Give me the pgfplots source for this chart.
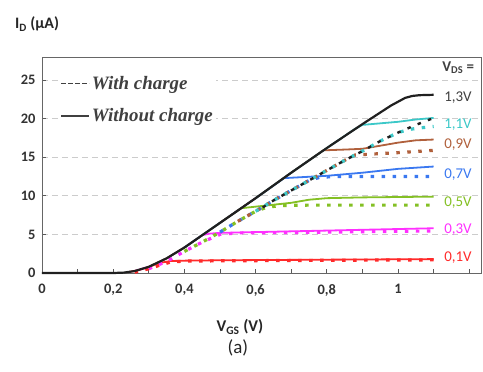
\documentclass[border=0pt]{standalone}
\usepackage{fontspec}
\setmainfont{Carlito}
\newfontfamily\legfont{Liberation Serif}
\usepackage{pgfplots}
\pgfplotsset{compat=1.18}
\definecolor{cC}{HTML}{3CC8C8}
\definecolor{cBr}{HTML}{B0603C}
\definecolor{cBl}{HTML}{3A78F0}
\definecolor{cG}{HTML}{84C024}
\definecolor{cM}{HTML}{FF30FF}
\definecolor{cR}{HTML}{FF2A2A}
\definecolor{cK}{HTML}{202020}
\pgfplotsset{dotsty/.style={forget plot, line width=3.2bp, dash pattern=on 3.5bp off 7.5bp}}
\begin{document}
\begin{tikzpicture}
\begin{axis}[name=ax, scale only axis, width=439bp, height=216bp,
  xmin=0, xmax=1.233, ymin=0, ymax=28, clip=false,
  axis line style={draw=gray!80!black, line width=0.9bp},
  xtick={0,0.2,0.4,0.6,0.8,1,1.2}, xticklabels={0,{0,2},{0,4},{0,6},{0,8},1,{}},
  minor xtick={0.1,0.3,0.5,0.7,0.9,1.1},
  ytick={0,5,10,15,20,25},
  xtick pos=bottom, ytick pos=left, tick align=inside,
  major tick length=4bp, minor tick length=4bp,
  tick style={gray!70!black, line width=0.8bp},
  ymajorgrids, grid style={gray!40, dash pattern=on 6bp off 4bp, line width=1bp},
  ticklabel style={font=\fontsize{14.5}{16}\selectfont\bfseries, text=black!80},
  /pgf/number format/assume math mode=true,
  xticklabel style={yshift=-8bp},
  yticklabel style={xshift=-3bp},
  legend cell align=left,
  legend image code/.code={\draw[#1] (0bp,0bp) -- (28bp,0bp);},
  legend style={at={(rel axis cs:0,1)}, anchor=north west, xshift=17bp, yshift=-16bp,
    draw=none, fill=white, inner sep=1bp, row sep=14bp,
    font=\legfont\bfseries\itshape\fontsize{19}{21}\selectfont, text=black!75},
]
\addlegendimage{black!75, line width=1.3bp, dash pattern=on 4.5bp off 2.5bp}
\addlegendentry{With charge}
\addlegendimage{black!75, line width=1.8bp}
\addlegendentry{Without charge}

% solid colored (without charge)
\addplot[forget plot, cR, line width=1.8bp] coordinates {(0.24,0.1) (0.27,0.35) (0.3,0.8) (0.33,1.3) (0.36,1.55) (0.4,1.6) (0.5,1.65) (0.7,1.7) (0.9,1.75) (1.1,1.8)};
\addplot[forget plot, cM, line width=1.8bp] coordinates {(0.26,0.25) (0.3,0.8) (0.35,1.9) (0.4,3.3) (0.45,4.9) (0.47,5.1) (0.5,5.2) (0.6,5.3) (0.8,5.5) (1.0,5.7) (1.1,5.8)};
\addplot[forget plot, cG, line width=1.8bp] coordinates {(0.3,0.8) (0.35,1.9) (0.4,3.3) (0.45,4.9) (0.5,6.5) (0.56,8.4) (0.6,8.6) (0.7,9.1) (0.75,9.5) (0.8,9.7) (0.9,9.8) (1.1,9.9)};
\addplot[forget plot, cBl, line width=1.8bp] coordinates {(0.4,3.3) (0.45,4.9) (0.5,6.5) (0.6,9.7) (0.68,12.3) (0.72,12.4) (0.8,12.6) (0.9,13.0) (1.0,13.5) (1.1,13.8)};
\addplot[forget plot, cBr, line width=1.8bp] coordinates {(0.5,6.5) (0.6,9.7) (0.7,13.0) (0.79,15.9) (0.85,16.0) (0.9,16.1) (0.95,16.5) (1.0,16.9) (1.05,17.2) (1.1,17.3)};
\addplot[forget plot, cC, line width=1.8bp] coordinates {(0.6,9.7) (0.7,13.0) (0.8,16.2) (0.88,18.7) (0.9,19.2) (0.95,19.4) (1.0,19.6) (1.05,19.9) (1.1,20.1)};

% dotted colored (with charge)
\addplot[dotsty, cR] coordinates {(0.26,0.1) (0.3,0.55) (0.33,1.0) (0.36,1.4) (0.4,1.55) (0.6,1.6) (0.8,1.65) (1.1,1.7)};
\addplot[dotsty, cM] coordinates {(0.3,0.55) (0.35,1.5) (0.4,2.8) (0.45,4.0) (0.5,5.0) (0.55,5.2) (0.7,5.25) (0.9,5.35) (1.1,5.45)};
\addplot[dotsty, cG] coordinates {(0.4,2.8) (0.45,4.0) (0.5,5.3) (0.55,6.7) (0.6,8.0) (0.63,8.5) (0.67,8.75) (0.75,8.8) (1.1,8.8)};
\addplot[dotsty, cBl] coordinates {(0.5,5.3) (0.55,6.7) (0.6,8.0) (0.65,9.4) (0.7,10.7) (0.75,12.0) (0.78,12.4) (0.82,12.5) (1.1,12.5)};
\addplot[dotsty, cBr] coordinates {(0.55,6.7) (0.6,8.0) (0.65,9.4) (0.7,10.7) (0.75,12.0) (0.8,13.3) (0.85,14.6) (0.88,15.3) (0.92,15.4) (1.0,15.6) (1.1,15.9)};
\addplot[dotsty, cC] coordinates {(0.6,8.0) (0.65,9.4) (0.7,10.7) (0.75,12.0) (0.8,13.3) (0.85,14.6) (0.9,15.8) (0.95,17.1) (1.0,18.2) (1.03,18.6) (1.06,18.8) (1.1,19.0)};
\addplot[dotsty, cK, line width=2.4bp] coordinates {(0.62,8.5) (0.65,9.4) (0.7,10.7) (0.75,12.0) (0.8,13.3) (0.85,14.6) (0.9,15.8) (0.95,17.1) (1.0,18.2) (1.05,19.2) (1.1,20.1)};

% black solid (1.3 V)
\addplot[forget plot, cK, line width=2.2bp] coordinates {(0,0) (0.1,0) (0.2,0) (0.23,0.05) (0.26,0.25) (0.3,0.8) (0.35,1.9) (0.4,3.3) (0.45,4.9) (0.5,6.5) (0.6,9.7) (0.7,13.0) (0.8,16.2) (0.9,19.3) (0.98,21.7) (1.0,22.2) (1.02,22.7) (1.04,22.95) (1.06,23.05) (1.1,23.1)};

% labels
\node[font=\fontsize{16}{18}\selectfont\bfseries, text=black!85, xshift=-5bp, yshift=33bp] at (rel axis cs:0,1) {I\textsubscript{D} (µA)};
\node[font=\fontsize{16.5}{18}\selectfont\bfseries, text=black!85, yshift=-54bp] at (axis cs:0.556,0) {V\textsubscript{GS} (V)};
\node[font=\fontsize{19}{21}\selectfont, text=black!85, yshift=-75bp] at (axis cs:0.55,0) {(a)};
\node[font=\fontsize{15}{17}\selectfont\bfseries, text=black!75] at (rel axis cs:0.948,0.949) {V\textsubscript{DS} =};
\node[anchor=west, font=\fontsize{15}{17}\selectfont, text=black!75] at (axis cs:1.12,22.8) {1,3V};
\node[anchor=west, font=\fontsize{15}{17}\selectfont, text=cC] at (axis cs:1.12,19.2) {1,1V};
\node[anchor=west, font=\fontsize{15}{17}\selectfont, text=cBr] at (axis cs:1.12,16.7) {0,9V};
\node[anchor=west, font=\fontsize{15}{17}\selectfont, text=cBl] at (axis cs:1.12,12.7) {0,7V};
\node[anchor=west, font=\fontsize{15}{17}\selectfont, text=cG] at (axis cs:1.12,9.1) {0,5V};
\node[anchor=west, font=\fontsize{15}{17}\selectfont, text=cM] at (axis cs:1.12,5.6) {0,3V};
\node[anchor=west, font=\fontsize{15}{17}\selectfont, text=cR] at (axis cs:1.12,1.95) {0,1V};
\end{axis}
\pgfresetboundingbox
\path[use as bounding box] (ax.south west) ++(-42bp,-99bp) rectangle ++(483bp,372bp);
\end{tikzpicture}
\end{document}
